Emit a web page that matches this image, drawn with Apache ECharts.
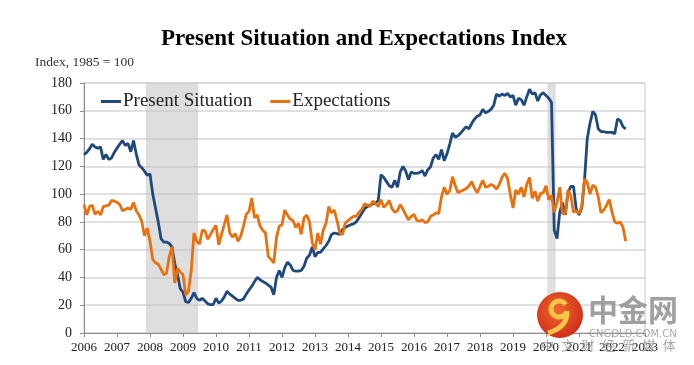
<!DOCTYPE html>
<html><head><meta charset="utf-8">
<script src="https://cdn.jsdelivr.net/npm/echarts@6/dist/echarts.min.js"></script>
<style>html,body{margin:0;padding:0;background:#fff}#c{width:694px;height:365px}</style>
</head><body><div id="c"></div>
<script>
// ---- data (monthly, Jan 2006 – Jun 2022) ----
const startYear = 2006;
const yearTicks = [2006,2007,2008,2009,2010,2011,2012,2013,2014,2015,2016,2017,2018,2019,2020,2021,2022,2023];
const yTickLabels = [0,20,40,60,80,100,120,140,160,180];
const seriesNames = ['Present Situation', 'Expectations'];
const presentSituation = [
  128.5,130,132.5,136,134,133,134,125,128.5,125,126,130,          // 2006
  133,136,138.5,135,136.5,130.5,138.5,129,121,119,116.5,113.5,    // 2007
  114.5,100,90,80,68,65.5,65.5,64.5,62,50,42,32,                  // 2008
  29.5,22.5,22,25,29,25,23.5,25,23,21,20.5,20.5,                  // 2009
  25,21.5,23,26,30,28,26.5,25,23.5,23.5,24.5,28,                  // 2010
  31,33.5,37,40,38.5,37,36,34.5,33,27.5,40,45,                    // 2011
  40,47,51,49,45,44.5,44.5,45,48,54,56,62,                        // 2012
  55,58,58,60.5,63,66,71,72,71.5,71,74.5,76,                      // 2013
  77,78,78.5,80,83,86,89.5,91,92,93,93.5,95.5,                    // 2014
  114,112,109,106,105,110,105,116,120,116.5,110.5,116,            // 2015
  115,115,115.5,117,113,117.5,119.5,126,128.5,125,132,124,        // 2016
  129,136,144,141,142,144,146.5,148.5,147,151,154,156,            // 2017
  157,161,158.5,159.5,161,164,172,170.5,172,171,172.5,170,        // 2018
  171,164,169,168,164,170,175.5,172,173,167,171.5,173,            // 2019
  171,169,166,74,68,87,94,85,101,105.5,105.5,89,                  // 2020
  85,90,110,140,151,159.5,157,147,145,145,144.5,144.5,            // 2021
  144.5,143.5,154,153,148.5,147                                    // 2022
];
const expectations = [
  92.5,85,91,92,85.5,87.5,85,91,91.5,92,95.5,95,                  // 2006
  94,92.5,88,89,90,89,94,88,85,80.5,70,75.5,                      // 2007
  66,53,50.5,49.5,46,42,43,55,62,36,46.5,44,                      // 2008
  42,27.5,30,45,72,66,64,74,73.5,67.5,71,74.5,                    // 2009
  77.5,63.5,71,78,85,72,69,71.5,66,70,77,85.5,                    // 2010
  87.5,97,83,85,77,74,72,55,53,50.5,69,77,                        // 2011
  78,88.5,85,82,81,76,79,71,83,85,80,65,                          // 2012
  60,72,64,74,79,91,86.5,88.5,81,72,71,79,                        // 2013
  81,82.5,84,84,87,89,93,92,91,95,93,91,                          // 2014
  96,90.5,92.5,95.5,89.5,87,88,92.5,89,85,81.5,84,                // 2015
  85.5,81,80.5,81.5,79.5,80,84,85,86.5,86,98,105,                 // 2016
  100,102.5,112.5,106,101,102,103,104,106,109,104,101,            // 2017
  105.5,110,105,105.5,107,106,103.5,107,112,115,111.5,100,        // 2018
  90,103,100,105,98,107,112,97,102,95,100.5,101,                  // 2019
  106,96,99,87,94,105,86,86,103,99,87,88,                         // 2020
  86,91,111,108.5,100,106.5,105,98,86.5,88.5,92,96,               // 2021
  87,80,79,80,76,66                                                // 2022
];
const recessions = [['2007-12','2009-06'], ['2020-02','2020-04']];

// ---- helpers ----
const monthX = i => startYear + i / 12;
const ymIndex = s => { const p = s.split('-').map(Number); return (p[0] - startYear) * 12 + (p[1] - 1); };
const toPoints = arr => arr.map((v, i) => [monthX(i), v]);

const serif = "'Liberation Serif','Times New Roman',serif";
const chart = echarts.init(document.getElementById('c'));

const wmChars = ['中','文','财','经','新','媒','体'];
const watermark = [
  {type:'circle', z:100, shape:{cx:560, cy:315, r:23},
   style:{fill:new echarts.graphic.RadialGradient(0.45,0.4,0.7,[{offset:0,color:'#f2682a'},{offset:1,color:'#c9251b'}])}},
  {type:'arc', z:101, shape:{cx:559, cy:309, r:8, startAngle:0.3, endAngle:Math.PI*2-0.6},
   style:{stroke:'#f8c44a', lineWidth:5, fill:null}},
  {type:'bezierCurve', z:101, shape:{x1:567, y1:311, x2:548, y2:333, cpx1:568, cpy1:327},
   style:{stroke:'#f8c44a', lineWidth:5, fill:null}},
  {type:'text', z:100, left:588, top:295,
   style:{text:'中金网', font:"bold 30px 'Noto Sans CJK SC'", fill:'rgba(150,150,150,0.9)'}},
  {type:'text', z:100, left:589, top:329,
   style:{text:'CNGOLD.COM.CN', font:"10px 'DejaVu Sans'", fill:'rgba(160,160,160,0.9)'}}
].concat(wmChars.map((ch, i) => ({
  type:'text', z:100, left:541 + i * 20.3, top:339,
  style:{text:ch, font:"13px 'Noto Sans CJK SC'", fill:'rgba(150,150,150,0.85)'}
})));

chart.setOption({
  animation:false,
  backgroundColor:'#fff',
  title:{text:'Present Situation and Expectations Index', left:156, top:23,
    textStyle:{fontFamily:serif, fontWeight:'bold', fontSize:23, color:'#000'}},
  legend:{data:seriesNames, left:96, top:87, icon:'rect', itemWidth:20, itemHeight:3, itemGap:18,
    textStyle:{fontFamily:serif, fontSize:19, color:'#222', padding:[0,0,0,-3]}},
  grid:{left:84, right:49, top:83, bottom:32, show:true, borderColor:'#c8c8c8', borderWidth:1},
  xAxis:{type:'value', min:yearTicks[0], max:yearTicks[yearTicks.length-1], interval:1,
    axisLine:{show:true, lineStyle:{color:'#8c8c8c', width:1}},
    axisTick:{show:true, length:4, lineStyle:{color:'#8c8c8c'}},
    axisLabel:{formatter:v => String(v), fontFamily:serif, fontSize:13, color:'#222', margin:8},
    splitLine:{show:false}},
  yAxis:{type:'value', min:yTickLabels[0], max:yTickLabels[yTickLabels.length-1], interval:20,
    axisLine:{show:true, lineStyle:{color:'#8c8c8c', width:1}},
    axisTick:{show:true, length:4, lineStyle:{color:'#8c8c8c'}},
    axisLabel:{fontFamily:serif, fontSize:14, color:'#222', margin:12},
    splitLine:{show:true, lineStyle:{color:'#d6d6d6', width:1.5}}},
  graphic:[
    {type:'text', left:35, top:55, style:{text:'Index, 1985 = 100', font:"13.5px 'Liberation Serif'", fill:'#333'}}
  ].concat(watermark),
  series:[
    {type:'line', name:'_shade', data:[], z:1, silent:true,
     markArea:{silent:true, itemStyle:{color:'rgba(195,195,195,0.55)'},
       data:recessions.map(r => [{xAxis:monthX(ymIndex(r[0]) - 0.5)}, {xAxis:monthX(ymIndex(r[1]) + 0.5)}])}},
    {type:'line', name:seriesNames[0], data:toPoints(presentSituation), z:3, symbol:'none',
     lineStyle:{color:'#1f497d', width:2.8}, itemStyle:{color:'#1f497d'}},
    {type:'line', name:seriesNames[1], data:toPoints(expectations), z:3, symbol:'none',
     lineStyle:{color:'#e8710e', width:2.8}, itemStyle:{color:'#e8710e'}}
  ]
});
</script></body></html>
